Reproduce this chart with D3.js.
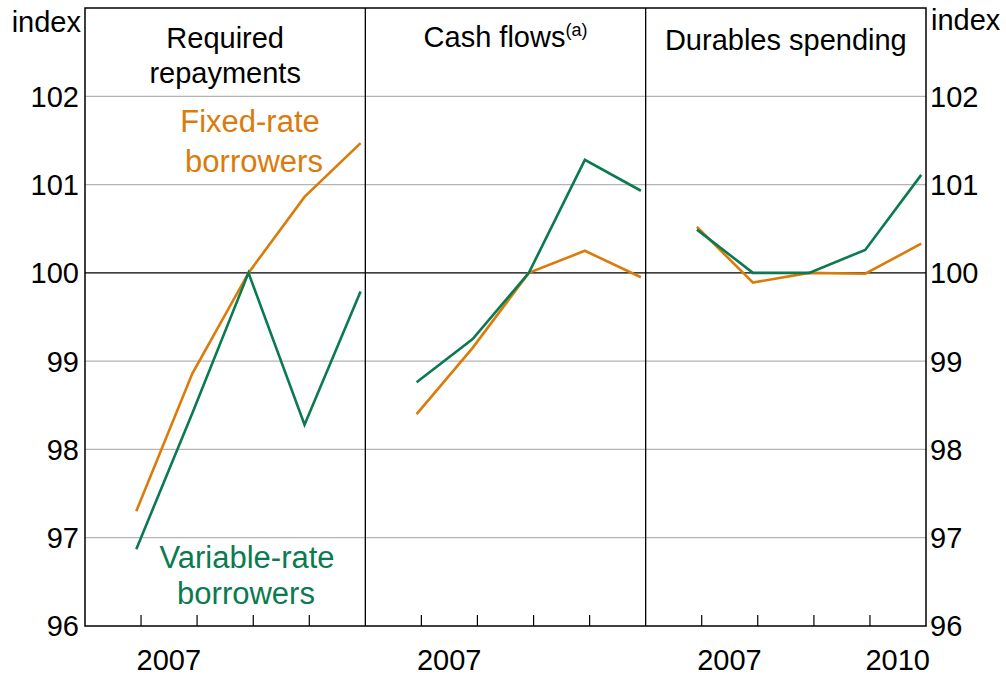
<!DOCTYPE html>
<html>
<head>
<meta charset="utf-8">
<script src="https://cdn.jsdelivr.net/npm/d3@7"></script>
<style>
  body { margin: 0; background: #fff; }
  text { font-family: Arial, "Liberation Sans", sans-serif; fill: #000; }
</style>
</head>
<body>
<div id="chart"></div>
<script>
// data, one value per year (december observations)
var dates = ["2006-12-01", "2007-12-01", "2008-12-01", "2009-12-01", "2010-12-01"];

var panelTitles = ["Required|repayments", "Cash flows", "Durables spending"];

var repayFixed = [97.30, 98.86, 100, 100.86, 101.47];
var repayVariable = [96.87, 98.41, 100, 98.28, 99.79];

var cashFixed = [98.40, 99.15, 100, 100.25, 99.95];
var cashVariable = [98.76, 99.25, 100, 101.28, 100.93];

var durFixed = [100.52, 99.89, 100, 99.99, 100.33];
var durVariable = [100.49, 100.0, 100, 100.26, 101.11];

var yTicks = [96, 97, 98, 99, 100, 101, 102];
var yearLabels = [["2007"], ["2007"], ["2007", "2010"]];

var orange = "#db7b0b";
var green = "#0a7a50";

var width = 1006;
var height = 675;
// plot box (dont call these top/left - window.top is taken)
var plotL = 85, plotR = 926, plotT = 8, plotB = 626;
var fsize = 29;
var labsize = 31;

var svg = d3.select("#chart")
  .append("svg")
  .attr("width", width)
  .attr("height", height);

var yscale = d3.scaleLinear().domain([96, 103]).range([plotB, plotT]);

var panelW = (plotR - plotL) / 3;
var parse = d3.timeParse("%Y-%m-%d");

var panels = [
  { title: panelTitles[0], fixed: repayFixed, variable: repayVariable, years: yearLabels[0] },
  { title: panelTitles[1], fixed: cashFixed, variable: cashVariable, years: yearLabels[1] },
  { title: panelTitles[2], fixed: durFixed, variable: durVariable, years: yearLabels[2] }
];

// gridlines
svg.append("g")
  .selectAll("line")
  .data(yTicks.filter(function(d) { return d != 100 && d != 96; }))
  .enter()
  .append("line")
  .attr("x1", plotL).attr("x2", plotR)
  .attr("y1", function(d) { return yscale(d); })
  .attr("y2", function(d) { return yscale(d); })
  .attr("stroke", "#b4b4b4")
  .attr("stroke-width", 1.2);

svg.append("line")
  .attr("x1", plotL).attr("x2", plotR)
  .attr("y1", yscale(100)).attr("y2", yscale(100))
  .attr("stroke", "#000").attr("stroke-width", 1.2);

panels.forEach(function(p, i) {
  var x0 = plotL + i * panelW;
  var xscale = d3.scaleTime()
    .domain([new Date(2006, 0, 1), new Date(2011, 0, 1)])
    .range([x0, x0 + panelW]);

  // inner year ticks along bottom
  var ticks = [2007, 2008, 2009, 2010];
  svg.append("g")
    .selectAll("line")
    .data(ticks)
    .enter()
    .append("line")
    .attr("x1", function(d) { return xscale(new Date(d, 0, 1)); })
    .attr("x2", function(d) { return xscale(new Date(d, 0, 1)); })
    .attr("y1", plotB)
    .attr("y2", plotB - 11)
    .attr("stroke", "#000")
    .attr("stroke-width", 1.2);

  // year labels in middle of the year
  svg.append("g")
    .selectAll("text")
    .data(p.years)
    .enter()
    .append("text")
    .attr("x", function(d) { return xscale(new Date(+d, 6, 1)); })
    .attr("y", 670)
    .attr("text-anchor", "middle")
    .attr("font-size", fsize)
    .text(function(d) { return d; });

  var line = d3.line()
    .x(function(d, j) { return xscale(parse(dates[j])); })
    .y(function(d) { return yscale(d); });

  svg.append("path")
    .datum(p.fixed)
    .attr("d", line)
    .attr("fill", "none")
    .attr("stroke", orange)
    .attr("stroke-width", 2.6);

  svg.append("path")
    .datum(p.variable)
    .attr("d", line)
    .attr("fill", "none")
    .attr("stroke", green)
    .attr("stroke-width", 2.6);

  // titles
  var cx = x0 + panelW / 2;
  var lines = p.title.split("|");
  var t = svg.append("text")
    .attr("x", cx)
    .attr("text-anchor", "middle")
    .attr("font-size", fsize);
  if (lines.length > 1) {
    t.attr("y", 48).text(lines[0]);
    svg.append("text")
      .attr("x", cx).attr("y", 83)
      .attr("text-anchor", "middle")
      .attr("font-size", fsize)
      .text(lines[1]);
  } else if (i == 1) {
    t.attr("y", 47).text(lines[0]);
    t.append("tspan")
      .attr("font-size", 18)
      .attr("dy", -11)
      .text("(a)");
  } else {
    t.attr("y", 50).text(lines[0]);
  }
});

// panel dividers + frame
svg.append("g")
  .selectAll("line")
  .data([1, 2])
  .enter()
  .append("line")
  .attr("x1", function(d) { return plotL + d * panelW; })
  .attr("x2", function(d) { return plotL + d * panelW; })
  .attr("y1", plotT).attr("y2", plotB)
  .attr("stroke", "#000").attr("stroke-width", 1.3);

svg.append("rect")
  .attr("x", plotL).attr("y", plotT)
  .attr("width", plotR - plotL).attr("height", plotB - plotT)
  .attr("fill", "none")
  .attr("stroke", "#000")
  .attr("stroke-width", 1.5);

// y labels both sides
svg.append("g")
  .selectAll("text")
  .data(yTicks)
  .enter()
  .append("text")
  .attr("x", plotL - 6)
  .attr("y", function(d) { return yscale(d); })
  .attr("dy", "0.36em")
  .attr("text-anchor", "end")
  .attr("font-size", fsize)
  .text(function(d) { return d; });

svg.append("g")
  .selectAll("text")
  .data(yTicks)
  .enter()
  .append("text")
  .attr("x", plotR + 4)
  .attr("y", function(d) { return yscale(d); })
  .attr("dy", "0.36em")
  .attr("text-anchor", "start")
  .attr("font-size", fsize)
  .text(function(d) { return d; });

svg.append("text")
  .attr("x", 81).attr("y", 32)
  .attr("text-anchor", "end")
  .attr("font-size", fsize)
  .text("index");

svg.append("text")
  .attr("x", 931).attr("y", 30)
  .attr("font-size", fsize)
  .text("index");

// series labels
var fixedLab = svg.append("text")
  .attr("text-anchor", "middle")
  .attr("font-size", labsize)
  .style("fill", orange);
fixedLab.append("tspan").attr("x", 250).attr("y", 132).text("Fixed-rate");
fixedLab.append("tspan").attr("x", 254).attr("y", 172).text("borrowers");

var varLab = svg.append("text")
  .attr("text-anchor", "middle")
  .attr("font-size", labsize)
  .style("fill", green);
varLab.append("tspan").attr("x", 247).attr("y", 568).text("Variable-rate");
varLab.append("tspan").attr("x", 246).attr("y", 604).text("borrowers");
</script>
</body>
</html>
